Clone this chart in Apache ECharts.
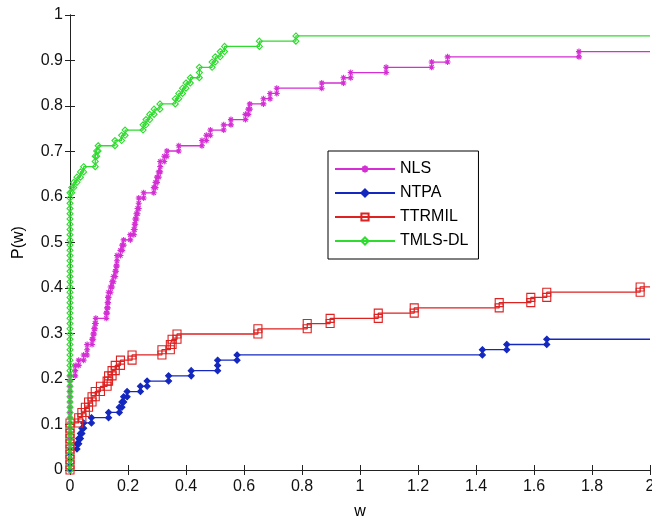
<!DOCTYPE html>
<html><head><meta charset="utf-8">
<script src="https://cdn.jsdelivr.net/npm/echarts@6/dist/echarts.min.js"></script>
<style>html,body{margin:0;padding:0;background:#fff}#c{width:652px;height:519px}</style>
</head><body><div id="c"></div>
<script>
// number of test problems (each step of a profile is 1/nProblems)
const nProblems = 87;
const seriesNames = ['NLS', 'NTPA', 'TTRMIL', 'TMLS-DL'];
const xTickValues = [0, 0.2, 0.4, 0.6, 0.8, 1, 1.2, 1.4, 1.6, 1.8, 2];
const yTickValues = [0, 0.1, 0.2, 0.3, 0.4, 0.5, 0.6, 0.7, 0.8, 0.9, 1];

// w where the profile jumps, and cumulative number of problems solved within w
const nlsW = [0, 0.018, 0.03, 0.047, 0.059, 0.076, 0.08, 0.083, 0.086, 0.089, 0.125, 0.128, 0.13, 0.131, 0.133, 0.14, 0.145, 0.15, 0.156, 0.159, 0.162, 0.174, 0.18, 0.185, 0.208, 0.22, 0.223, 0.225, 0.229, 0.233, 0.237, 0.254, 0.289, 0.295, 0.3, 0.306, 0.311, 0.325, 0.334, 0.375, 0.455, 0.47, 0.484, 0.53, 0.555, 0.605, 0.615, 0.62, 0.667, 0.69, 0.713, 0.868, 0.943, 0.968, 1.09, 1.247, 1.302, 1.755];
const nlsK = [18, 20, 21, 22, 24, 25, 26, 27, 28, 29, 30, 31, 32, 33, 34, 35, 36, 37, 38, 39, 41, 42, 43, 44, 45, 46, 47, 48, 49, 50, 52, 53, 54, 55, 56, 57, 59, 60, 61, 62, 63, 64, 65, 66, 67, 68, 69, 70, 71, 72, 73, 74, 75, 76, 77, 78, 79, 80];

const ntpaW = [0, 0.024, 0.03, 0.036, 0.041, 0.047, 0.074, 0.133, 0.17, 0.179, 0.185, 0.197, 0.243, 0.266, 0.34, 0.418, 0.509, 0.576, 1.422, 1.506, 1.644];
const ntpaK = [4, 5, 6, 7, 8, 9, 10, 11, 12, 13, 14, 15, 16, 17, 18, 19, 21, 22, 23, 24, 25];

const ttrW = [0, 0.03, 0.041, 0.053, 0.064, 0.076, 0.087, 0.105, 0.128, 0.133, 0.145, 0.156, 0.174, 0.214, 0.317, 0.346, 0.352, 0.369, 0.648, 0.818, 0.897, 1.063, 1.187, 1.48, 1.589, 1.644, 1.966];
const ttrK = [9, 10, 11, 12, 13, 14, 15, 16, 17, 18, 19, 20, 21, 22, 23, 24, 25, 26, 27, 28, 29, 30, 31, 32, 33, 34, 35];

const tmlsW = [0, 0.006, 0.013, 0.024, 0.036, 0.047, 0.087, 0.092, 0.097, 0.155, 0.178, 0.19, 0.252, 0.262, 0.275, 0.29, 0.31, 0.363, 0.375, 0.388, 0.4, 0.415, 0.446, 0.49, 0.501, 0.518, 0.533, 0.653, 0.779];
const tmlsK = [53, 54, 55, 56, 57, 58, 60, 61, 62, 63, 64, 65, 66, 67, 68, 69, 70, 71, 72, 73, 74, 75, 77, 78, 79, 80, 81, 82, 83];

const xMax = 2;

function buildSteps(ws, ks) {
  const pts = [];
  let k = 0;
  for (let i = 0; i < ws.length; i++) {
    const w = ws[i];
    pts.push([w, k / nProblems]);
    for (let j = k + 1; j <= ks[i]; j++) pts.push([w, j / nProblems]);
    k = ks[i];
  }
  pts.push({ value: [xMax, k / nProblems], symbol: 'none' });
  return pts;
}

const asterisk = 'path://M5,0L5,10M0,5L10,5M1.5,1.5L8.5,8.5M1.5,8.5L8.5,1.5';
const fontFam = '"Liberation Sans", Arial, sans-serif';
const axisColor = '#222';
const fmt = v => String(Math.round(v * 10) / 10);

function mkSeries(name, ws, ks, color, symbol, size, filled, z) {
  return {
    name: name, type: 'line', data: buildSteps(ws, ks),
    xAxisIndex: 0, yAxisIndex: 0,
    symbol: symbol, symbolSize: size, showSymbol: true, showAllSymbol: true,
    clip: false, z: z,
    lineStyle: { color: color, width: 1.3 },
    itemStyle: { color: filled ? color : 'rgba(0,0,0,0)', borderColor: color, borderWidth: 1.1 },
    emphasis: { disabled: true }
  };
}

const chart = echarts.init(document.getElementById('c'), null, { renderer: 'canvas' });
chart.setOption({
  animation: false,
  backgroundColor: '#fff',
  grid: { left: 70, top: 15, width: 580, height: 455, containLabel: false, outerBoundsMode: 'none' },
  legend: {
    orient: 'vertical', left: 328, top: 151,
    padding: [10, 10, 10, 6], itemGap: 8, itemWidth: 60, itemHeight: 9,
    backgroundColor: '#fff', borderColor: '#000', borderWidth: 1, borderRadius: 0,
    selectedMode: false,
    textStyle: { fontSize: 16, lineHeight: 16, color: '#000', fontFamily: fontFam },
    data: seriesNames
  },
  xAxis: [{
    type: 'value', min: 0, max: xMax, interval: 0.2, position: 'bottom',
    name: 'w', nameLocation: 'middle', nameGap: 34,
    nameTextStyle: { fontSize: 16, color: '#000', fontFamily: fontFam },
    axisLine: { show: true, lineStyle: { color: axisColor, width: 1 } },
    axisTick: { inside: true, length: 5, lineStyle: { color: axisColor } },
    axisLabel: { fontSize: 16, color: '#111', fontFamily: fontFam, margin: 9, formatter: fmt, showMaxLabel: true, showMinLabel: true },
    splitLine: { show: false }
  }, {
    type: 'value', min: 0, max: xMax, interval: 0.2, position: 'top',
    axisLine: { show: true, lineStyle: { color: axisColor, width: 1 } },
    axisTick: { inside: true, length: 5, lineStyle: { color: axisColor } },
    axisLabel: { show: false }, splitLine: { show: false }
  }],
  yAxis: [{
    type: 'value', min: 0, max: 1, interval: 0.1, position: 'left',
    name: 'P(w)', nameLocation: 'middle', nameGap: 43,
    nameTextStyle: { fontSize: 16, color: '#000', fontFamily: fontFam },
    axisLine: { show: true, lineStyle: { color: axisColor, width: 1 } },
    axisTick: { inside: true, length: 5, lineStyle: { color: axisColor } },
    axisLabel: { fontSize: 16, color: '#111', fontFamily: fontFam, margin: 7, formatter: fmt },
    splitLine: { show: false }
  }, {
    type: 'value', min: 0, max: 1, interval: 0.1, position: 'right',
    axisLine: { show: true, lineStyle: { color: axisColor, width: 1 } },
    axisTick: { inside: true, length: 5, lineStyle: { color: axisColor } },
    axisLabel: { show: false }, splitLine: { show: false }
  }],
  series: [
    mkSeries(seriesNames[0], nlsW, nlsK, '#d42ed4', asterisk, 6, false, 2),
    mkSeries(seriesNames[1], ntpaW, ntpaK, '#1428c0', 'diamond', 6, true, 3),
    mkSeries(seriesNames[2], ttrW, ttrK, '#dd2222', 'rect', 8, false, 4),
    mkSeries(seriesNames[3], tmlsW, tmlsK, '#2edb2e', 'diamond', 6, false, 5)
  ]
});
</script>
</body></html>
